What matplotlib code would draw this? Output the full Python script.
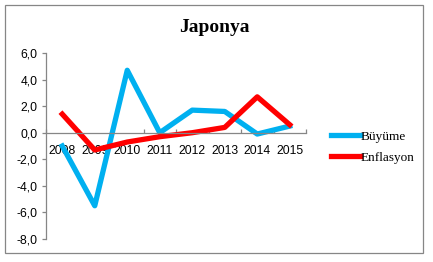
import matplotlib
matplotlib.use("Agg")
import matplotlib.pyplot as plt
from matplotlib.patches import Rectangle

years = ['2008', '2009', '2010', '2011', '2012', '2013', '2014', '2015']
buyume = [-1.0, -5.5, 4.7, 0.0, 1.7, 1.6, -0.1, 0.5]
enflasyon = [1.4, -1.3, -0.7, -0.3, 0.0, 0.4, 2.7, 0.6]
yticks = [6, 4, 2, 0, -2, -4, -6, -8]

fig = plt.figure(figsize=(4.33, 2.62), dpi=100)
fig.patch.set_facecolor('white')

# outer chart border
fig.patches.append(Rectangle((5 / 433, 1 - 253 / 262), 418 / 433, 248 / 262,
                             transform=fig.transFigure, fill=False,
                             edgecolor='#868686', linewidth=0.9))

ax = fig.add_axes([46 / 433, 1 - 239 / 262, 260 / 433, 186 / 262])
x = range(len(years))
l1, = ax.plot(x, buyume, color='#00B0F0', linewidth=3.8, label='Büyüme')
l2, = ax.plot(x, enflasyon, color='#FF0000', linewidth=3.8, label='Enflasyon')

ax.set_xlim(-0.5, 7.5)
ax.set_ylim(-8, 6)
ax.set_yticks(yticks)
ax.yaxis.set_major_formatter(matplotlib.ticker.FuncFormatter(lambda v, p: ('%.1f' % v).replace('.', ',')))

ax.set_xticks(list(x))
ax.set_xticklabels(years)
ax.set_xticks([i - 0.5 for i in range(len(years) + 1)], minor=True)

for s in ['top', 'right']:
    ax.spines[s].set_visible(False)
ax.spines['bottom'].set_position(('data', 0))
ax.spines['left'].set_color('#868686')
ax.spines['bottom'].set_color('#868686')
ax.spines['left'].set_linewidth(0.9)
ax.spines['bottom'].set_linewidth(0.9)

ax.tick_params(axis='x', which='major', length=0, pad=9, labelsize=8.7)
ax.tick_params(axis='x', which='minor', direction='in', length=3, color='#868686', width=0.9)
ax.tick_params(axis='y', length=3, color='#868686', width=0.9, pad=3, labelsize=8.7)
for lab in ax.get_xticklabels() + ax.get_yticklabels():
    lab.set_fontfamily('Liberation Sans')

fig.text(214 / 433, 1 - 27 / 262, 'Japonya', ha='center', va='center',
         fontsize=14, fontweight='bold', family='Liberation Serif')

fig.legend(handles=[l1, l2], loc='upper left', bbox_to_anchor=(324 / 433, 1 - 124 / 262),
           frameon=False, prop={'family': 'Liberation Serif', 'size': 9.5},
           handlelength=2.2, handletextpad=0.1, labelspacing=0.65, borderpad=0)

fig.savefig('out.png', dpi=100)
